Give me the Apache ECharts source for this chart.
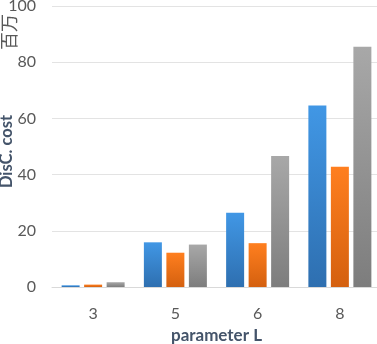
<!DOCTYPE html>
<html><head><meta charset="utf-8">
<script src="https://cdn.jsdelivr.net/npm/echarts@6/dist/echarts.min.js"></script>
<style>html,body{margin:0;padding:0;background:#fff}#c{width:377px;height:344px}</style>
</head><body><div id="c"></div>
<script>
const categories = ['3', '5', '6', '8'];
const seriesA = [0.6, 15.9, 26.4, 64.6];
const seriesB = [0.85, 12.2, 15.6, 42.8];
const seriesC = [1.7, 15.1, 46.6, 85.5];
const yTicks = [0, 20, 40, 60, 80, 100];

const font = 'Lato, "Open Sans", sans-serif';
function grad(top, bottom) {
  return new echarts.graphic.LinearGradient(0, 0, 0, 1, [
    {offset: 0, color: top}, {offset: 1, color: bottom}
  ]);
}
const chart = echarts.init(document.getElementById('c'));
chart.setOption({
  animation: false,
  grid: {left: 52, right: -4, top: 6, bottom: 57, containLabel: false, outerBoundsMode: 'none'},
  xAxis: {
    type: 'category', data: categories,
    name: 'parameter L', nameLocation: 'middle', nameGap: 40, nameMoveOverlap: false,
    nameTextStyle: {fontFamily: font, fontWeight: 'bold', fontSize: 17, color: '#44546A'},
    axisLine: {lineStyle: {color: '#D9D9D9'}},
    axisTick: {show: false},
    axisLabel: {fontFamily: font, fontSize: 16, color: '#595959', margin: 19}
  },
  yAxis: {
    type: 'value', min: yTicks[0], max: yTicks[yTicks.length - 1], interval: 20,
    name: 'DisC. cost', nameLocation: 'middle', nameGap: 37, nameMoveOverlap: false,
    nameTextStyle: {fontFamily: font, fontWeight: 'bold', fontSize: 16.5, color: '#44546A', padding: [0, 10, 0, 0]},
    axisLine: {show: false}, axisTick: {show: false},
    splitLine: {lineStyle: {color: '#E3E3E3', width: 1}},
    axisLabel: {fontFamily: font, fontSize: 16, color: '#595959', margin: 16}
  },
  graphic: [{
    type: 'text', x: 0, y: 50, rotation: Math.PI / 2,
    style: {text: '百万', font: '18px "Noto Sans CJK SC"', fill: '#595959', textAlign: 'left', textVerticalAlign: 'top'}
  }],
  series: [
    {type: 'bar', data: seriesA, barWidth: 18, barGap: '25%', itemStyle: {color: grad('#4197E5', '#2E6FB0')}},
    {type: 'bar', data: seriesB, barWidth: 18, barGap: '25%', itemStyle: {color: grad('#FF7F1F', '#D4600F')}},
    {type: 'bar', data: seriesC, barWidth: 18, barGap: '25%', itemStyle: {color: grad('#A8A8A8', '#7D7D7D')}}
  ]
});
</script></body></html>
